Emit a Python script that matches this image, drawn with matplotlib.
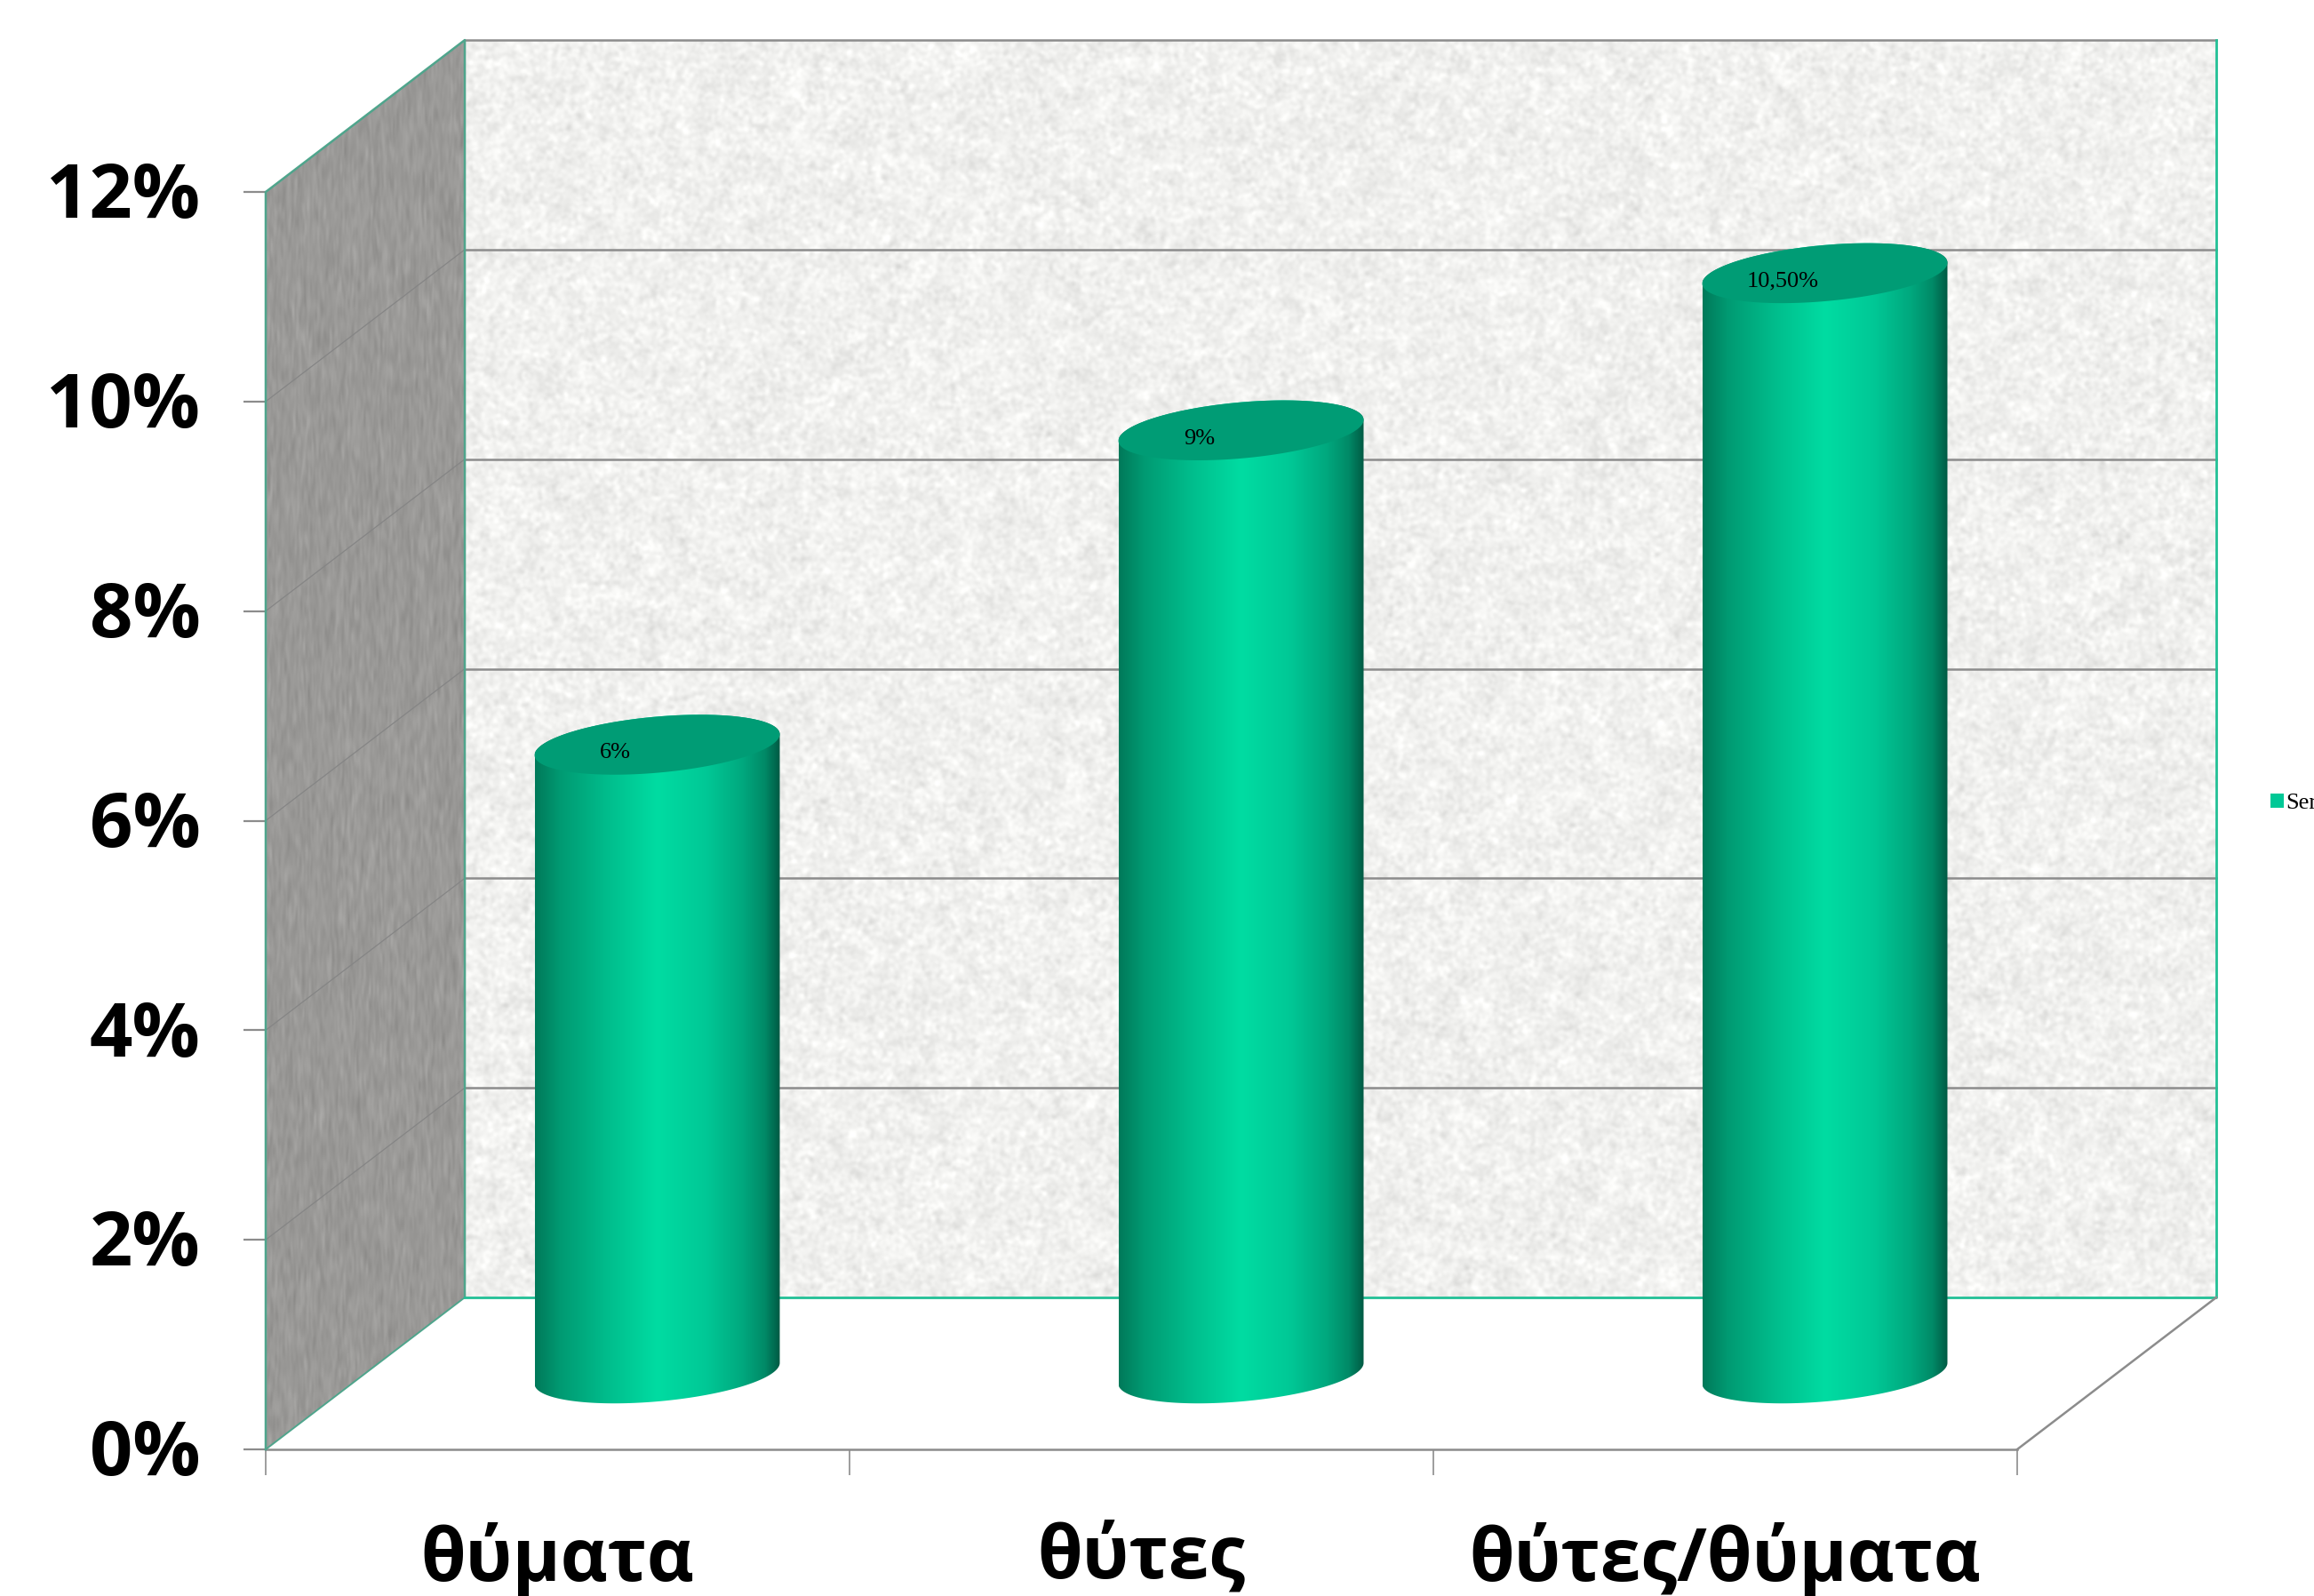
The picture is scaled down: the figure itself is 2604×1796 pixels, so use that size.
import numpy as np
import matplotlib
matplotlib.use('Agg')
import matplotlib.pyplot as plt
from matplotlib.colors import LinearSegmentedColormap
from matplotlib.patches import Patch, Polygon
from matplotlib.path import Path
from matplotlib.transforms import ScaledTranslation

# les valeurs du graphique
categories = ['θύματα', 'θύτες', 'θύτες/θύματα']
valeurs = [6, 9, 10.5]
etiquettes = ['6%', '9%', '10,50%']
graduations = [0, 2, 4, 6, 8, 10, 12]
serie = 'Series1'

# profondeur de la boite 3D, en unites des axes
prof_x = 0.341
prof_y = 1.45
demi_largeur = 0.21
cisaillement = 0.10
demi_hauteur = 0.268

W, H = 2604, 1796
fig = plt.figure(figsize=(W / 100, H / 100), dpi=100, facecolor='white')
ax = fig.add_axes([299 / W, (H - 1631) / H, 1971 / W, 1415 / H])
ax.set_facecolor('none')


def flou(bruit, sx, sy):
    # flou gaussien par FFT pour la texture des murs
    fy = np.fft.fftfreq(bruit.shape[0])[:, None]
    fx = np.fft.rfftfreq(bruit.shape[1])[None, :]
    filtre = np.exp(-2 * np.pi ** 2 * ((fx * sx) ** 2 + (fy * sy) ** 2))
    res = np.fft.irfft2(np.fft.rfft2(bruit) * filtre, s=bruit.shape)
    return res / res.std()


def image_clippee(img, etendue, contour, **kw):
    im = ax.imshow(img, extent=etendue, aspect='auto', origin='upper', **kw)
    im.set_clip_box(fig.bbox)
    # on referme le contour : Path(closed=True) ignore le dernier sommet
    sommets = np.vstack([contour, contour[0]])
    im.set_clip_path(Path(sommets, closed=True), ax.transData)
    return im


# texture du mur du fond (seulement du grain, pas des donnees)
rng = np.random.default_rng(7)
grain = 0.85 * flou(rng.normal(size=(1418, 1973)), 2.0, 2.0) + 0.4 * flou(rng.normal(size=(1418, 1973)), 7, 7)
fond = np.clip(np.dstack([241 + 5.5 * grain, 241 + 5.5 * grain, 239 + 5.5 * grain]), 0, 255) / 255
mur_fond = [(prof_x, prof_y), (3 + prof_x, prof_y), (3 + prof_x, 12 + prof_y), (prof_x, 12 + prof_y)]
image_clippee(fond, (prof_x, 3 + prof_x, prof_y, 12 + prof_y), mur_fond, zorder=1)

# mur de gauche
grain2 = flou(rng.normal(size=(800, 230)), 1.0, 3.0)
cote = np.clip(np.dstack([154 + 4 * grain2, 153 + 4 * grain2, 151 + 4 * grain2]), 0, 255) / 255
mur_gauche = [(0, 0), (prof_x, prof_y), (prof_x, 12 + prof_y), (0, 12)]
image_clippee(cote, (0, prof_x, 0, 12 + prof_y), mur_gauche, zorder=1)

# lignes de la grille
for g in graduations[1:]:
    couleur = '#8c8c8c'
    ax.plot([prof_x, 3 + prof_x], [g + prof_y] * 2, color=couleur, lw=1.8, zorder=2, clip_on=False)
    if g < 12:
        ax.plot([0, prof_x], [g, g + prof_y], color='#858585', lw=0.9, zorder=2, clip_on=False)

# bords de la boite
vert_bord = '#4fa58c'
ax.plot([0, 0, prof_x, prof_x], [0, 12, 12 + prof_y, prof_y], color=vert_bord, lw=1.8, zorder=3, clip_on=False)
ax.plot([0, prof_x], [0, prof_y], color=vert_bord, lw=1.4, zorder=3, clip_on=False)
ax.plot([prof_x, 3 + prof_x, 3 + prof_x], [prof_y, prof_y, 12 + prof_y], color='#22c096', lw=2.0, zorder=3, clip_on=False)
ax.plot([3, 3 + prof_x], [0, prof_y], color='#8c8c8c', lw=1.8, zorder=3, clip_on=False)

# cylindres
degrade = LinearSegmentedColormap.from_list('cyl', [
    (0.00, '#007a5a'), (0.10, '#009a72'), (0.30, '#00be8d'), (0.50, '#00dca2'),
    (0.70, '#00c896'), (0.85, '#00a87e'), (0.94, '#008a67'), (1.00, '#005c45')])
bande = np.linspace(0, 1, 400)[None, :]
t = np.linspace(0, 2 * np.pi, 200, endpoint=False)

for i, (valeur, etiquette) in enumerate(zip(valeurs, etiquettes)):
    cx = i + 0.5 + prof_x / 2
    bas = prof_y / 2
    haut = valeur + prof_y / 2
    ex = demi_largeur * np.cos(t)
    ey = cisaillement * np.cos(t) + demi_hauteur * np.sin(t)

    # contour du corps : ellipse du bas + ellipse du haut
    contour_bas = np.column_stack([cx + ex, bas + ey])
    contour_haut = np.column_stack([cx + ex, haut + ey])
    moitie_bas = contour_bas[100:]   # demi-ellipse inferieure, de gauche a droite
    moitie_haut = contour_haut[:101]  # demi-ellipse superieure, de droite a gauche
    corps = np.vstack([moitie_bas, contour_bas[0], moitie_haut])
    image_clippee(bande, (cx - demi_largeur, cx + demi_largeur, bas - 0.5, haut + 0.5),
                  corps, cmap=degrade, vmin=0, vmax=1, zorder=4)

    ax.add_patch(Polygon(contour_haut, closed=True, facecolor='#009c75', edgecolor='none',
                         zorder=5, clip_on=False))
    ax.text(cx - 0.0715, haut - 0.08, etiquette, family='Liberation Serif', fontsize=19,
            ha='center', va='center', color='black', zorder=6)

ax.set_xlim(0, 3)
ax.set_ylim(0, 12)

for cote_ax in ['top', 'right']:
    ax.spines[cote_ax].set_visible(False)
for cote_ax in ['left', 'bottom']:
    ax.spines[cote_ax].set_color('#8c8c8c')
    ax.spines[cote_ax].set_linewidth(1.8)
ax.spines['left'].set_visible(False)

ax.set_yticks(graduations)
ax.set_yticklabels([f'{g}%' for g in graduations], family='Open Sans', fontweight='bold', fontsize=61)
ax.tick_params(axis='y', length=18, width=1.6, color='#8c8c8c', pad=35)
# remonter un peu les etiquettes de l'axe y
for lbl in ax.get_yticklabels():
    lbl.set_transform(lbl.get_transform() + ScaledTranslation(0, 2 / 72, fig.dpi_scale_trans))

ax.set_xticks([0, 1, 2, 3])
ax.set_xticklabels([])
ax.set_xticks([0.5, 1.5, 2.5], minor=True)
ax.set_xticklabels(categories, minor=True, family='Open Sans', fontweight='bold', fontsize=59)
ax.tick_params(axis='x', which='major', length=21, width=1.2, color='#8c8c8c')
ax.tick_params(axis='x', which='minor', length=0, pad=59)

# legende coupee par le bord droit, comme sur l'original
ax.legend(handles=[Patch(facecolor='#00c896', edgecolor='none', label=serie)],
          loc='center left', bbox_to_anchor=(2555 / W, (H - 904) / H),
          bbox_transform=fig.transFigure, frameon=False, borderpad=0, borderaxespad=0,
          handlelength=0.55, handleheight=0.55, handletextpad=0.1,
          prop={'family': 'Liberation Serif', 'size': 19})

fig.savefig('out.png', dpi=100)
